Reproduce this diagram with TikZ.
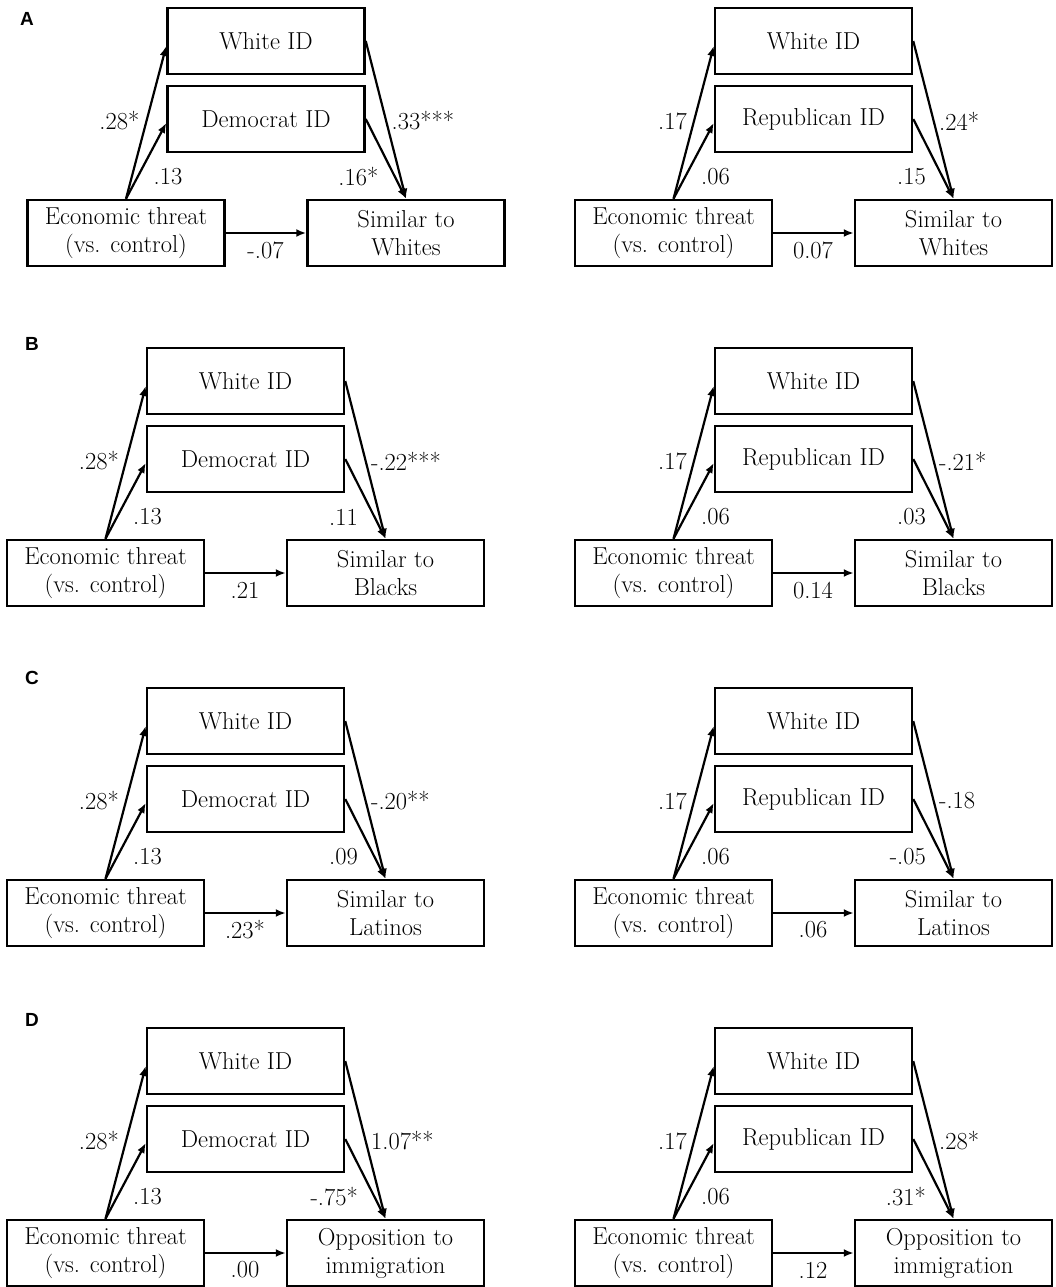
\documentclass[tikz,border=0pt]{standalone}
\usepackage{fontspec}
\usepackage{tikz}
\usetikzlibrary{arrows.meta}
\newfontfamily\panelfont{Liberation Sans}

\begin{document}
\begin{tikzpicture}[x=1pt, y=-1pt, every node/.style={font=\fontsize{24.5}{28}\selectfont}]
    \tikzset{box/.style={draw, line width=2.5pt, minimum width=197pt, minimum height=66pt, inner sep=0pt, align=center},
             arr/.style={line width=2.2pt, -{Latex[length=10pt,width=8pt]}},
             coef/.style={inner sep=0pt},
             panel/.style={font=\panelfont\bfseries\fontsize{19}{20}\selectfont, inner sep=0pt}}
    \useasboundingbox (0,0) rectangle (1055,1287);

    \node[panel] (lA) at (27,18.5) {A};
    \node[panel] (lB) at (32,344) {B};
    \node[panel] (lC) at (32,678) {C};
    \node[panel] (lD) at (32,1020) {D};

    \begin{scope}[shift={(167.5,8)}]
        \node[box] (wA) at (98.5,33) {White ID};
        \node[box] (pA) at (98.5,111) {Democrat ID};
        \node[box] (eA) at (-41.5,225) {Economic threat\\(vs. control)};
        \node[box] (oA) at (238.5,225) {Similar to\\Whites};
        \path[arr] (eA.north) edge ([yshift=-5pt]wA.west) edge ([yshift=-4pt]pA.west) (wA.east) edge (oA.north) (pA.east) edge (oA.north) (eA) edge (oA);
        \node[coef, anchor=east] (cA1) at (-28,113) {.28*};
        \node[coef, anchor=west] (cA2) at (-14,169) {.13};
        \node[coef, anchor=west] (cA3) at (224,113) {.33***};
        \node[coef, anchor=east] (cA4) at (211,169) {.16*};
        \node[coef] (cA5) at (98,242) {-.07};
    \end{scope}
    \begin{scope}[shift={(715,8)}]
        \node[box] (wAr) at (98.5,33) {White ID};
        \node[box] (pAr) at (98.5,111) {Republican ID};
        \node[box] (eAr) at (-41.5,225) {Economic threat\\(vs. control)};
        \node[box] (oAr) at (238.5,225) {Similar to\\Whites};
        \path[arr] (eAr.north) edge ([yshift=-5pt]wAr.west) edge ([yshift=-4pt]pAr.west) (wAr.east) edge (oAr.north) (pAr.east) edge (oAr.north) (eAr) edge (oAr);
        \node[coef, anchor=east] (cAr1) at (-28,113) {.17};
        \node[coef, anchor=west] (cAr2) at (-14,169) {.06};
        \node[coef, anchor=west] (cAr3) at (224,113) {.24*};
        \node[coef, anchor=east] (cAr4) at (211,169) {.15};
        \node[coef] (cAr5) at (98,242) {0.07};
    \end{scope}

    \begin{scope}[shift={(147,348)}]
        \node[box] (wB) at (98.5,33) {White ID};
        \node[box] (pB) at (98.5,111) {Democrat ID};
        \node[box] (eB) at (-41.5,225) {Economic threat\\(vs. control)};
        \node[box] (oB) at (238.5,225) {Similar to\\Blacks};
        \path[arr] (eB.north) edge ([yshift=-5pt]wB.west) edge ([yshift=-4pt]pB.west) (wB.east) edge (oB.north) (pB.east) edge (oB.north) (eB) edge (oB);
        \node[coef, anchor=east] (cB1) at (-28,113) {.28*};
        \node[coef, anchor=west] (cB2) at (-14,169) {.13};
        \node[coef, anchor=west] (cB3) at (224,113) {-.22***};
        \node[coef, anchor=east] (cB4) at (211,169) {.11};
        \node[coef] (cB5) at (98,242) {.21};
    \end{scope}
    \begin{scope}[shift={(715,348)}]
        \node[box] (wBr) at (98.5,33) {White ID};
        \node[box] (pBr) at (98.5,111) {Republican ID};
        \node[box] (eBr) at (-41.5,225) {Economic threat\\(vs. control)};
        \node[box] (oBr) at (238.5,225) {Similar to\\Blacks};
        \path[arr] (eBr.north) edge ([yshift=-5pt]wBr.west) edge ([yshift=-4pt]pBr.west) (wBr.east) edge (oBr.north) (pBr.east) edge (oBr.north) (eBr) edge (oBr);
        \node[coef, anchor=east] (cBr1) at (-28,113) {.17};
        \node[coef, anchor=west] (cBr2) at (-14,169) {.06};
        \node[coef, anchor=west] (cBr3) at (224,113) {-.21*};
        \node[coef, anchor=east] (cBr4) at (211,169) {.03};
        \node[coef] (cBr5) at (98,242) {0.14};
    \end{scope}

    \begin{scope}[shift={(147,688)}]
        \node[box] (wC) at (98.5,33) {White ID};
        \node[box] (pC) at (98.5,111) {Democrat ID};
        \node[box] (eC) at (-41.5,225) {Economic threat\\(vs. control)};
        \node[box] (oC) at (238.5,225) {Similar to\\Latinos};
        \path[arr] (eC.north) edge ([yshift=-5pt]wC.west) edge ([yshift=-4pt]pC.west) (wC.east) edge (oC.north) (pC.east) edge (oC.north) (eC) edge (oC);
        \node[coef, anchor=east] (cC1) at (-28,113) {.28*};
        \node[coef, anchor=west] (cC2) at (-14,169) {.13};
        \node[coef, anchor=west] (cC3) at (224,113) {-.20**};
        \node[coef, anchor=east] (cC4) at (211,169) {.09};
        \node[coef] (cC5) at (98,242) {.23*};
    \end{scope}
    \begin{scope}[shift={(715,688)}]
        \node[box] (wCr) at (98.5,33) {White ID};
        \node[box] (pCr) at (98.5,111) {Republican ID};
        \node[box] (eCr) at (-41.5,225) {Economic threat\\(vs. control)};
        \node[box] (oCr) at (238.5,225) {Similar to\\Latinos};
        \path[arr] (eCr.north) edge ([yshift=-5pt]wCr.west) edge ([yshift=-4pt]pCr.west) (wCr.east) edge (oCr.north) (pCr.east) edge (oCr.north) (eCr) edge (oCr);
        \node[coef, anchor=east] (cCr1) at (-28,113) {.17};
        \node[coef, anchor=west] (cCr2) at (-14,169) {.06};
        \node[coef, anchor=west] (cCr3) at (224,113) {-.18};
        \node[coef, anchor=east] (cCr4) at (211,169) {-.05};
        \node[coef] (cCr5) at (98,242) {.06};
    \end{scope}

    \begin{scope}[shift={(147,1028)}]
        \node[box] (wD) at (98.5,33) {White ID};
        \node[box] (pD) at (98.5,111) {Democrat ID};
        \node[box] (eD) at (-41.5,225) {Economic threat\\(vs. control)};
        \node[box] (oD) at (238.5,225) {Opposition to\\immigration};
        \path[arr] (eD.north) edge ([yshift=-5pt]wD.west) edge ([yshift=-4pt]pD.west) (wD.east) edge (oD.north) (pD.east) edge (oD.north) (eD) edge (oD);
        \node[coef, anchor=east] (cD1) at (-28,113) {.28*};
        \node[coef, anchor=west] (cD2) at (-14,169) {.13};
        \node[coef, anchor=west] (cD3) at (224,113) {1.07**};
        \node[coef, anchor=east] (cD4) at (211,169) {-.75*};
        \node[coef] (cD5) at (98,242) {.00};
    \end{scope}
    \begin{scope}[shift={(715,1028)}]
        \node[box] (wDr) at (98.5,33) {White ID};
        \node[box] (pDr) at (98.5,111) {Republican ID};
        \node[box] (eDr) at (-41.5,225) {Economic threat\\(vs. control)};
        \node[box] (oDr) at (238.5,225) {Opposition to\\immigration};
        \path[arr] (eDr.north) edge ([yshift=-5pt]wDr.west) edge ([yshift=-4pt]pDr.west) (wDr.east) edge (oDr.north) (pDr.east) edge (oDr.north) (eDr) edge (oDr);
        \node[coef, anchor=east] (cDr1) at (-28,113) {.17};
        \node[coef, anchor=west] (cDr2) at (-14,169) {.06};
        \node[coef, anchor=west] (cDr3) at (224,113) {.28*};
        \node[coef, anchor=east] (cDr4) at (211,169) {.31*};
        \node[coef] (cDr5) at (98,242) {.12};
    \end{scope}
\end{tikzpicture}
\end{document}
